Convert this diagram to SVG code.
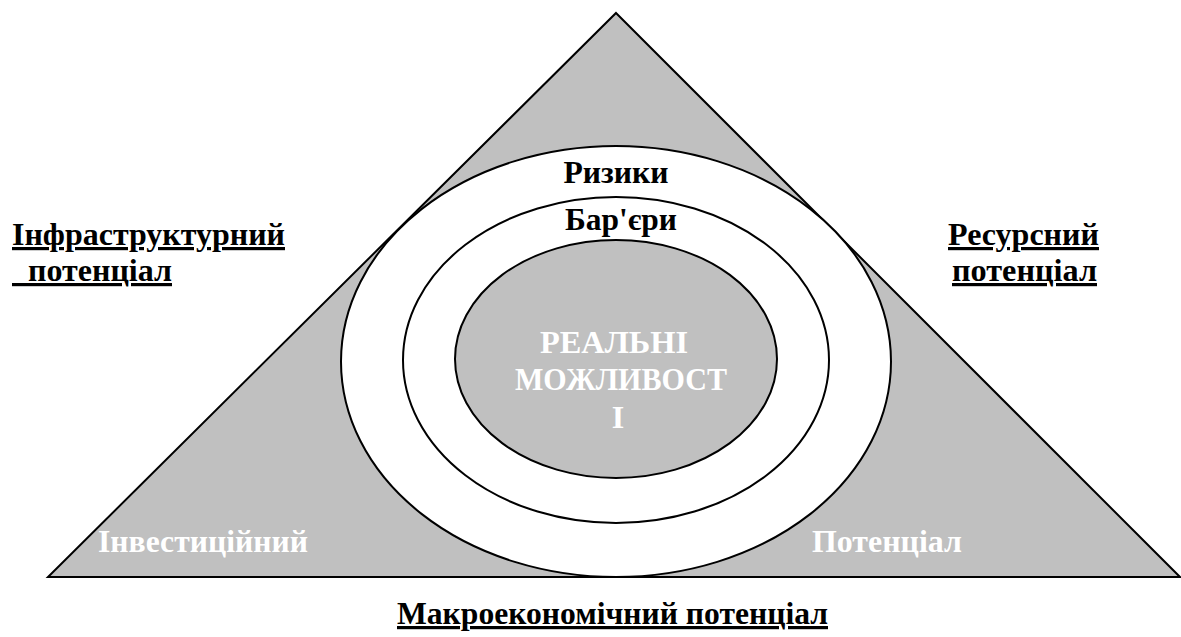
<svg xmlns="http://www.w3.org/2000/svg" width="1181" height="637" viewBox="0 0 1181 637">
  <style>
    .shape { stroke: #000; stroke-width: 2; }
    .grey { fill: #c0c0c0; }
    .white { fill: #fff; }
    .t { font-family: "Liberation Serif", "Times New Roman", serif; font-weight: bold; font-size: 32px; }
    .dark { fill: #000; }
    .light { fill: #fff; }
    .ul { text-decoration: underline; }
  </style>

  <!-- base triangle of potentials -->
  <g id="triangle">
    <polygon class="shape grey" points="616,13 1180,577 48,577"/>
  </g>

  <!-- nested rings: risks, barriers, real opportunities -->
  <g id="risks">
    <ellipse class="shape white" cx="616" cy="361.5" rx="275" ry="215.5"/>
    <text class="t dark" x="616" y="183" text-anchor="middle" textLength="105" lengthAdjust="spacingAndGlyphs">Ризики</text>
  </g>
  <g id="barriers">
    <ellipse class="shape white" cx="616" cy="360" rx="213" ry="163"/>
    <text class="t dark" x="621" y="230" text-anchor="middle" textLength="112" lengthAdjust="spacingAndGlyphs">Бар'єри</text>
  </g>
  <g id="real-opportunities">
    <ellipse class="shape grey" cx="616" cy="359" rx="161" ry="119"/>
    <text class="t light" x="614" y="353" text-anchor="middle" textLength="148" lengthAdjust="spacingAndGlyphs">РЕАЛЬНІ</text>
    <text class="t light" x="621" y="390" text-anchor="middle" textLength="212" lengthAdjust="spacingAndGlyphs">МОЖЛИВОСТ</text>
    <text class="t light" x="618" y="428" text-anchor="middle">І</text>
  </g>

  <!-- corner labels inside triangle -->
  <g id="investment">
    <text class="t light" x="98" y="552" textLength="210" lengthAdjust="spacingAndGlyphs">Інвестиційний</text>
  </g>
  <g id="potential">
    <text class="t light" x="812" y="552" textLength="150" lengthAdjust="spacingAndGlyphs">Потенціал</text>
  </g>

  <!-- side labels -->
  <g id="infrastructure">
    <text class="t dark ul" x="12" y="245" textLength="273" lengthAdjust="spacingAndGlyphs">Інфраструктурний</text>
    <text class="t dark ul" x="12" y="281" textLength="160" lengthAdjust="spacingAndGlyphs" xml:space="preserve">  потенціал</text>
  </g>
  <g id="resource">
    <text class="t dark ul" x="948" y="245" textLength="151" lengthAdjust="spacingAndGlyphs">Ресурсний</text>
    <text class="t dark ul" x="952" y="281" textLength="145" lengthAdjust="spacingAndGlyphs">потенціал</text>
  </g>
  <g id="macroeconomic">
    <text class="t dark ul" x="397" y="624" textLength="431" lengthAdjust="spacingAndGlyphs">Макроекономічний потенціал</text>
  </g>
</svg>
